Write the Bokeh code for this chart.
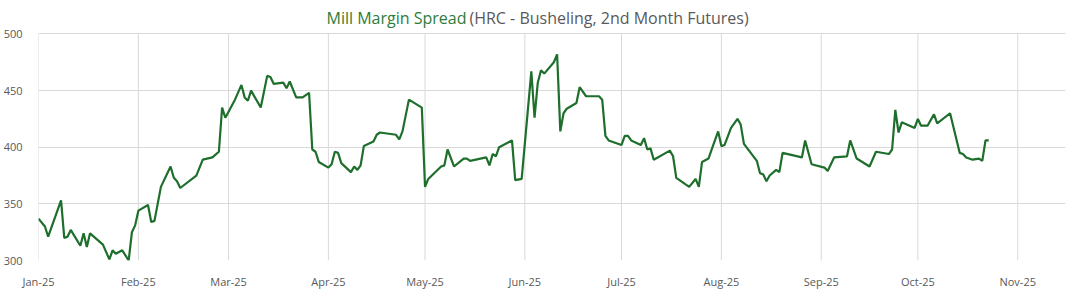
from datetime import datetime
import pandas as pd
from bokeh.plotting import figure
from bokeh.models import (Range1d, FixedTicker, MonthsTicker, DatetimeTickFormatter,
                          ColumnDataSource)
from bokeh.core.properties import value
from bokeh.embed import file_html
from bokeh.resources import INLINE

# ---- data ----
dates = [
    "2025-01-01", "2025-01-03", "2025-01-04", "2025-01-08", "2025-01-09", "2025-01-10",
    "2025-01-11", "2025-01-14", "2025-01-15", "2025-01-16", "2025-01-17", "2025-01-21",
    "2025-01-23", "2025-01-24", "2025-01-25", "2025-01-27", "2025-01-29", "2025-01-30",
    "2025-01-31", "2025-02-01", "2025-02-04", "2025-02-05", "2025-02-06", "2025-02-08",
    "2025-02-11", "2025-02-12", "2025-02-13", "2025-02-14", "2025-02-19", "2025-02-21",
    "2025-02-24", "2025-02-26", "2025-02-27", "2025-02-28", "2025-03-03", "2025-03-05",
    "2025-03-06", "2025-03-07", "2025-03-08", "2025-03-11", "2025-03-13", "2025-03-14",
    "2025-03-15", "2025-03-18", "2025-03-19", "2025-03-20", "2025-03-22", "2025-03-24",
    "2025-03-26", "2025-03-27", "2025-03-28", "2025-03-29", "2025-04-01", "2025-04-02",
    "2025-04-03", "2025-04-04", "2025-04-05", "2025-04-08", "2025-04-09", "2025-04-10",
    "2025-04-11", "2025-04-12", "2025-04-15", "2025-04-16", "2025-04-17", "2025-04-22",
    "2025-04-23", "2025-04-24", "2025-04-26", "2025-04-30", "2025-05-01", "2025-05-02",
    "2025-05-06", "2025-05-07", "2025-05-08", "2025-05-10", "2025-05-13", "2025-05-14",
    "2025-05-15", "2025-05-20", "2025-05-21", "2025-05-22", "2025-05-23", "2025-05-24",
    "2025-05-28", "2025-05-29", "2025-05-31", "2025-06-03", "2025-06-04", "2025-06-05",
    "2025-06-06", "2025-06-07", "2025-06-10", "2025-06-11", "2025-06-12", "2025-06-13",
    "2025-06-14", "2025-06-17", "2025-06-18", "2025-06-20", "2025-06-24", "2025-06-25",
    "2025-06-26", "2025-06-27", "2025-07-01", "2025-07-02", "2025-07-03", "2025-07-04",
    "2025-07-07", "2025-07-08", "2025-07-09", "2025-07-10", "2025-07-11", "2025-07-16",
    "2025-07-17", "2025-07-18", "2025-07-22", "2025-07-24", "2025-07-25", "2025-07-26",
    "2025-07-28", "2025-07-29", "2025-07-31", "2025-08-01", "2025-08-02", "2025-08-04",
    "2025-08-06", "2025-08-07", "2025-08-08", "2025-08-12", "2025-08-13", "2025-08-14",
    "2025-08-15", "2025-08-16", "2025-08-18", "2025-08-19", "2025-08-20", "2025-08-26",
    "2025-08-27", "2025-08-29", "2025-09-02", "2025-09-03", "2025-09-05", "2025-09-09",
    "2025-09-10", "2025-09-12", "2025-09-16", "2025-09-18", "2025-09-22", "2025-09-23",
    "2025-09-24", "2025-09-25", "2025-09-26", "2025-09-30", "2025-10-01", "2025-10-02",
    "2025-10-04", "2025-10-06", "2025-10-07", "2025-10-11", "2025-10-14", "2025-10-15",
    "2025-10-16", "2025-10-18", "2025-10-20", "2025-10-21", "2025-10-22", "2025-10-23",
]
spread = [
    337, 330, 321, 353, 320, 321,
    327, 313, 324, 312, 324, 314,
    301, 309, 306, 309, 300, 325,
    331, 344, 349, 334, 335, 365,
    383, 373, 370, 364, 375, 389,
    391, 396, 435, 426, 442, 455,
    444, 441, 450, 435, 463, 462,
    456, 457, 452, 458, 444, 444,
    448, 398, 396, 387, 382, 385,
    396, 395, 386, 378, 383, 380,
    384, 401, 405, 411, 413, 411,
    407, 414, 442, 435, 365, 372,
    383, 384, 398, 383, 390, 390,
    388, 391, 384, 394, 392, 400,
    406, 371, 372, 467, 426, 457,
    468, 465, 475, 482, 414, 430,
    434, 439, 453, 445, 445, 442,
    410, 406, 402, 410, 410, 406,
    402, 408, 398, 399, 389, 397,
    392, 373, 365, 372, 365, 387,
    390, 398, 414, 401, 402, 417,
    425, 420, 403, 388, 377, 376,
    370, 375, 380, 378, 395, 391,
    406, 385, 382, 379, 391, 392,
    406, 390, 383, 396, 394, 398,
    433, 413, 422, 417, 425, 419,
    419, 429, 421, 430, 395, 394,
    391, 389, 390, 388, 406, 406,
]
y_ticks = [300, 350, 400, 450, 500]
month_starts = pd.date_range("2025-01-01", "2025-11-01", freq="MS")
title_main = "Mill Margin Spread"
title_rest = "(HRC - Busheling, 2nd Month Futures)"

Y_MIN, Y_MAX = 300, 500

# ---- figure ----
src = ColumnDataSource(dict(date=pd.to_datetime(dates), spread=spread))

p = figure(width=1075, height=291, x_axis_type="datetime",
           output_backend="svg", toolbar_location=None,
           x_range=Range1d(datetime(2025, 1, 1), datetime(2025, 11, 15, 20)),
           y_range=Range1d(Y_MIN, 526),
           min_border_left=38, min_border_right=10,
           min_border_top=4, min_border_bottom=25)
p.background_fill_color = "white"
p.border_fill_color = "white"
p.outline_line_color = None

GRID = "#d9d9d9"
TXT = "#595959"
FONT = "Open Sans"

# vertical month gridlines, only over the value span
p.xgrid.visible = False
p.segment(x0=month_starts, y0=[Y_MIN] * len(month_starts),
          x1=month_starts, y1=[Y_MAX] * len(month_starts),
          line_color=GRID, line_width=1)
p.ygrid.ticker = FixedTicker(ticks=y_ticks)
p.ygrid.grid_line_color = GRID
p.ygrid.grid_line_width = 1

p.line("date", "spread", source=src, line_color="#1e6e2c", line_width=2.2)

p.xaxis.ticker = MonthsTicker(months=list(range(12)))
fmt = "%b-%y"
p.xaxis.formatter = DatetimeTickFormatter(days=fmt, months=fmt, years=fmt)
p.yaxis.ticker = FixedTicker(ticks=y_ticks)

for ax in (p.xaxis, p.yaxis):
    ax.axis_line_color = None
    ax.major_tick_line_color = None
    ax.minor_tick_line_color = None
    ax.major_label_text_color = TXT
    ax.major_label_text_font = FONT
    ax.major_label_text_font_size = "11px"
p.yaxis.major_label_standoff = 10
p.xaxis.major_label_standoff = 7

# two-colour title, drawn as text inside the (extended) frame
split_x = datetime(2025, 5, 14, 4)
p.text(x=[split_x], y=[514], text=[title_main], x_offset=-1,
       text_align="right", text_baseline="middle", text_color="#2e7d3a",
       text_font=value(FONT), text_font_size="16px")
p.text(x=[split_x], y=[514], text=[title_rest], x_offset=2,
       text_align="left", text_baseline="middle", text_color=TXT,
       text_font=value(FONT), text_font_size="16px")

open("out.html", "w").write(file_html(p, INLINE))
